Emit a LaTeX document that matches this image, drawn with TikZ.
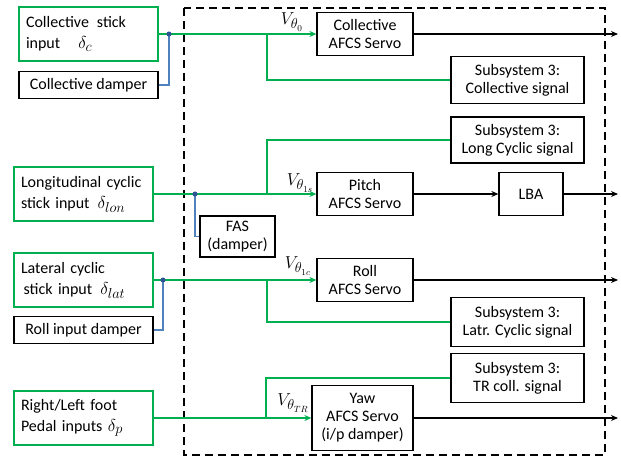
\documentclass[tikz,border=0pt]{standalone}
\usepackage{fontspec}
\setmainfont{Carlito}
\usetikzlibrary{arrows.meta}
\definecolor{sgreen}{RGB}{0,176,80}
\definecolor{sblue}{RGB}{79,129,189}
\definecolor{sdot}{RGB}{47,85,151}
% larger math for the input and command symbols
\newcommand{\bigsym}[1]{{\fontsize{19}{18}\selectfont$#1$}}

\begin{document}
\begin{tikzpicture}[x=1pt, y=-1pt, >={Stealth[length=7pt,width=6pt]},
    box/.style={draw, line width=1.2pt, align=center, inner sep=2pt,
                font=\fontsize{16}{18}\selectfont},
    inbox/.style={box, draw=sgreen, align=left, inner xsep=7pt,
                  text width=125pt, minimum height=54pt,
                  font=\fontsize{16}{21}\selectfont},
    dmpbox/.style={box, minimum width=139pt, minimum height=27pt},
    srv/.style={box, minimum width=96pt, minimum height=43pt},
    sub/.style={box, minimum width=133pt, minimum height=47pt},
    sig/.style={sgreen, line width=1.6pt},
    damp/.style={sblue, line width=1.2pt},
    cmdline/.style={line width=1.2pt, ->},
    vlab/.style={inner sep=0pt}]
    \useasboundingbox (0,0) rectangle (621,462);

    % AFCS boundary
    \draw[line width=1.3pt, dash pattern=on 8pt off 5pt] (184,8) rectangle (605,455);

    % pilot inputs and dampers
    \node[inbox] (colin) at (88.5,34) {Collective\, stick\\input\hspace{18pt}\bigsym{\delta_c}};
    \node[dmpbox] (coldmp) at (88.5,85) {Collective damper};
    \node[inbox] (lonin) at (83.5,194) {Longitudinal cyclic\\stick input\, \bigsym{\delta_{lon}}};
    \node[inbox] (latin) at (83.5,280) {Lateral cyclic\\\,stick input\, \bigsym{\delta_{lat}}};
    \node[dmpbox] (rolldmp) at (83.5,330) {Roll input damper};
    \node[inbox] (pedin) at (83.5,418) {Right/Left foot\\Pedal inputs \bigsym{\delta_p}};
    \node[box, minimum width=75pt, minimum height=41pt] (fas) at (237.5,236.5) {FAS\\(damper)};

    % servos and subsystem links
    \node[srv] (colsrv) at (365,34) {Collective\\AFCS Servo};
    \node[sub] (colsub) at (517.5,80) {Subsystem 3:\\Collective signal};
    \node[sub, minimum height=46pt] (lonsub) at (517.5,140) {Subsystem 3:\\Long Cyclic signal};
    \node[srv] (pitch) at (365,194) {Pitch\\AFCS Servo};
    \node[box, minimum width=64pt, minimum height=43pt] (lba) at (531,194) {LBA};
    \node[srv] (roll) at (365,280) {Roll\\AFCS Servo};
    \node[sub, minimum height=49pt] (latsub) at (517.5,322) {Subsystem 3:\\Latr. Cyclic signal};
    \node[sub, minimum height=49pt] (trsub) at (517.5,378) {Subsystem 3:\\TR coll. signal};
    \node[srv, minimum width=101pt, minimum height=65pt] (yaw) at (362.5,418) {Yaw\\AFCS Servo\\(i/p damper)};

    % servo command labels
    \node[vlab] (vcol) at (292,22) {\bigsym{V_{\theta_0}}};
    \node[vlab] (vlon) at (300,183) {\bigsym{V_{\theta_{1s}}}};
    \node[vlab] (vlat) at (298,266) {\bigsym{V_{\theta_{1c}}}};
    \node[vlab] (vped) at (293,403) {\bigsym{V_{\theta_{TR}}}};

    \coordinate (jcol) at (169,34);
    \coordinate (jlon) at (195,194);
    \coordinate (jlat) at (163,280);
    \coordinate (bcol) at (267,34);
    \coordinate (blon) at (267,194);
    \coordinate (blat) at (267,280);
    \coordinate (bped) at (266,418);

    % collective channel
    \draw[sig, ->] (colin.east) -- (colsrv.west);
    \draw[damp] (coldmp.east) -| (jcol);
    \draw[sig] (bcol) |- (colsub.west);
    \draw[cmdline] (colsrv.east) -- (618,34);

    % longitudinal channel
    \draw[sig, ->] (lonin.east) -- (pitch.west);
    \draw[damp] (jlon) |- (fas.west);
    \draw[sig] (blon) |- (lonsub.west);
    \draw[cmdline] (pitch.east) -- (lba.west);
    \draw[cmdline] (lba.east) -- (618,194);

    % lateral channel
    \draw[sig, ->] (latin.east) -- (roll.west);
    \draw[damp] (rolldmp.east) -| (jlat);
    \draw[sig] (blat) |- (latsub.west);
    \draw[cmdline] (roll.east) -- (618,280);

    % pedal channel
    \draw[sig, ->] (pedin.east) -- (yaw.west);
    \draw[sig] (bped) |- (trsub.west);
    \draw[cmdline] (yaw.east) -- (618,418);

    \foreach \j in {jcol,jlon,jlat}
        \fill[sdot] (\j) circle (2.5pt);
\end{tikzpicture}
\end{document}
